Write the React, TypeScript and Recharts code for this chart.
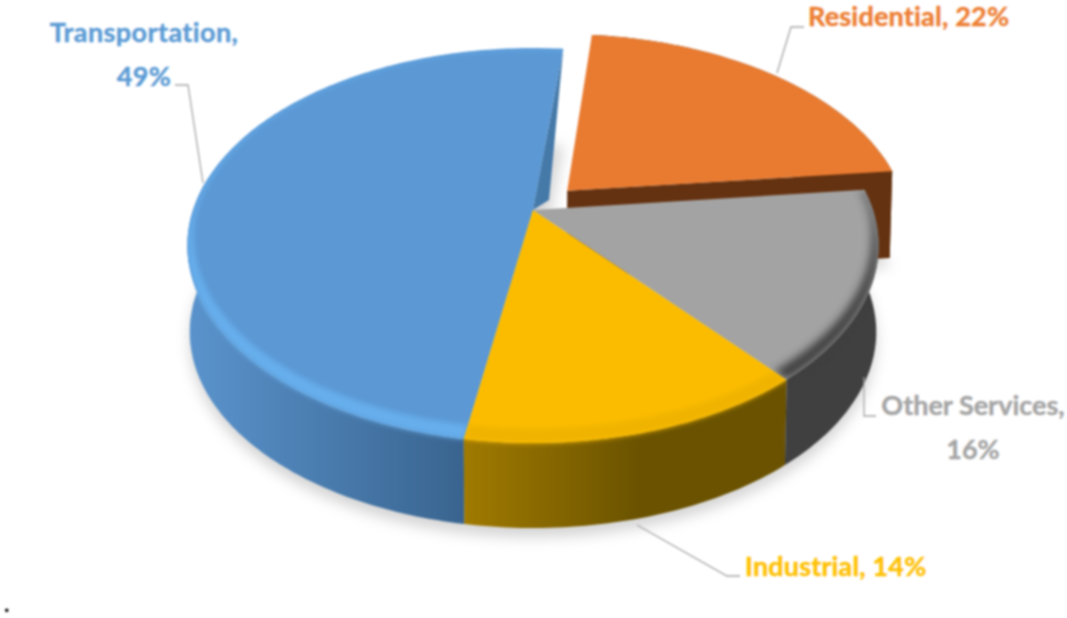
import React from 'react';
import { PieChart, Pie } from 'recharts';

const categories = ['Residential', 'Transportation', 'Industrial', 'Other Services'];
// unrounded shares, the printed labels round them (22, 49, 14, 16)
const shares = [21.6, 49, 13.8, 15.6];

const topColors = ['#E97B31', '#5B98D4', '#FBBC00', '#A3A3A3'];
const labelColors = ['#ED7D31', '#5B9BD5', '#FFC000', '#A5A5A5'];
const bevelColors = ['none', '#66AEEC', '#F0B400', '#3C3C3C'];
const wallStops = [
  ['#643211', '#643211'],
  ['#5A93CC', '#39648F'],
  ['#A07A00', '#6A5200'],
  ['#404040', '#404040'],
];

const chartData = categories.map((name, i) => ({ name, value: shares[i] }));

// projection of the tilted disc, fitted to the reference
const PERSPECTIVE = 0.18;
const TILT = 0.562;
const DEPTH = 86.6;
const FLOOR_SCALE = 0.993;
const EXPLODE = 0.145;
const EXPLODED = 'Residential';
const RAD = Math.PI / 180;

// leader lines and text anchors, one entry per category
const labelLayouts: Record<string, { line: number[][]; rows: number[][]; anchor: string; wrap: boolean; spacing: number }> = {
  Residential: { line: [[777, 73], [791, 27], [804, 27]], rows: [[808, 26]], anchor: 'start', wrap: false, spacing: 0.2 },
  Transportation: { line: [[175, 85], [188, 85], [203, 183]], rows: [[144, 42], [144, 86]], anchor: 'middle', wrap: true, spacing: 0.4 },
  Industrial: { line: [[637, 525], [727, 576], [740, 576]], rows: [[745, 576]], anchor: 'start', wrap: false, spacing: 0.15 },
  'Other Services': { line: [[864, 377], [864, 416], [876, 416]], rows: [[973, 415], [973, 459]], anchor: 'middle', wrap: true, spacing: 0 },
};

type Ctx = { cx: number; cy: number; r: number; du: number; dv: number };

function project(c: Ctx, u: number, v: number, floor: boolean) {
  const uu = u + c.du;
  const vv = v + c.dv;
  const d = 1 + PERSPECTIVE * vv;
  let x = c.cx + (c.r * uu) / d;
  let y = c.cy - (c.r * TILT * vv) / d;
  if (floor) {
    x = c.cx + (x - c.cx) * FLOOR_SCALE;
    y = c.cy + DEPTH + (y - c.cy) * FLOOR_SCALE;
  }
  return [x, y];
}

function rim(c: Ctx, start: number, end: number, radius: (a: number) => number, floor: boolean) {
  const steps = Math.max(8, Math.ceil(Math.abs(end - start)));
  const pts: number[][] = [];
  for (let i = 0; i <= steps; i++) {
    const a = start + ((end - start) * i) / steps;
    const rr = radius(a);
    pts.push(project(c, rr * Math.cos(a * RAD), rr * Math.sin(a * RAD), floor));
  }
  return pts;
}

const toPath = (pts: number[][]) =>
  'M' + pts.map((p) => p[0].toFixed(1) + ',' + p[1].toFixed(1)).join('L') + 'Z';

function makeCtx(props: any): Ctx {
  const mid = (props.startAngle + props.endAngle) / 2;
  const off = props.payload.name === EXPLODED ? EXPLODE : 0;
  return {
    cx: props.cx,
    cy: props.cy,
    r: props.outerRadius,
    du: off * Math.cos(mid * RAD),
    dv: off * Math.sin(mid * RAD),
  };
}

function ShadowSlice(props: any) {
  const c = makeCtx(props);
  const { startAngle, endAngle } = props;
  const floor = rim(c, startAngle, endAngle, () => 1, true);
  const apex = project(c, 0, 0, true);
  const id = 'shadow' + props.payload.name.slice(0, 3);
  return (
    <g>
      <filter id={id} filterUnits="userSpaceOnUse" x="0" y="0" width="1067" height="618">
        <feGaussianBlur stdDeviation="7" />
      </filter>
      <path d={toPath([apex, ...floor])} transform="translate(0,9)" fill="#000" fillOpacity={0.17} filter={'url(#' + id + ')'} />
    </g>
  );
}

function SliceShape(props: any) {
  const name = props.payload.name as string;
  const i = categories.indexOf(name);
  const key = name.slice(0, 3);
  const c = makeCtx(props);
  const { startAngle, endAngle } = props;

  const topRim = rim(c, startAngle, endAngle, () => 1, false);
  const floorRim = rim(c, startAngle, endAngle, () => 1, true);
  const apex = project(c, 0, 0, false);
  const apexFloor = project(c, 0, 0, true);
  const topPath = toPath([apex, ...topRim]);

  // only the exploded slice shows its far side, the others start at the near half
  const wallStart = name === EXPLODED ? startAngle : Math.max(startAngle, 170);
  const wallPath = toPath([
    ...rim(c, wallStart, endAngle, () => 1, false),
    ...rim(c, endAngle, wallStart, () => 1, true),
  ]);

  // soft band along the near edge of the top face
  const bandWidth = (a: number) => 1 - (0.012 + 0.04 * Math.max(0, -Math.sin(a * RAD)));
  const bandPath = toPath([...topRim, ...rim(c, endAngle, startAngle, bandWidth, false)]);

  const xs = floorRim.map((p) => p[0]);
  const [wallFrom, wallTo] = wallStops[i];

  return (
    <g>
      <defs>
        <linearGradient
          id={'wall' + key}
          gradientUnits="userSpaceOnUse"
          x1={name === 'Transportation' ? 190 : Math.min(...xs)}
          x2={name === 'Industrial' ? 640 : name === 'Transportation' ? 463 : Math.max(...xs)}
          y1="0"
          y2="0"
        >
          <stop offset="0" stopColor={wallFrom} />
          <stop offset="1" stopColor={wallTo} />
        </linearGradient>
        <clipPath id={'clip' + key}>
          <path d={topPath} />
          <path d={wallPath} />
        </clipPath>
        <filter id={'soft' + key} filterUnits="userSpaceOnUse" x="0" y="0" width="1067" height="618">
          <feGaussianBlur stdDeviation={name === 'Other Services' ? 4.5 : 2.4} />
        </filter>
      </defs>
      {name === EXPLODED && (
        <path d={toPath([apex, topRim[0], floorRim[0], apexFloor])} fill={wallTo} />
      )}
      {name === 'Transportation' && (
        <path d={toPath([apex, topRim[0], [apex[0] + 16, apex[1] - 10]])} fill="#4579A8" />
      )}
      <path d={wallPath} fill={'url(#wall' + key + ')'} />
      <path d={topPath} fill={topColors[i]} />
      {bevelColors[i] !== 'none' && (
        <g clipPath={'url(#clip' + key + ')'}>
          <path d={bandPath} fill={bevelColors[i]} filter={'url(#soft' + key + ')'} />
        </g>
      )}
    </g>
  );
}

function SliceLabel(props: any) {
  const name = props.name as string;
  const i = categories.indexOf(name);
  const layout = labelLayouts[name];
  const pct = Math.round(props.value) + '%';
  const texts = layout.wrap ? [name + ',', pct] : [name + ', ' + pct];
  return (
    <g>
      <polyline points={layout.line.map((p) => p.join(',')).join(' ')} fill="none" stroke="#A6A6A6" strokeWidth={1.3} />
      {texts.map((t, n) => (
        <text
          key={n}
          x={layout.rows[n][0]}
          y={layout.rows[n][1]}
          textAnchor={layout.anchor as any}
          fontFamily="Lato, sans-serif"
          fontWeight={700}
          fontSize={27}
          fill={labelColors[i]}
          stroke={labelColors[i]}
          strokeWidth={0.4}
          letterSpacing={layout.spacing}
          style={{ fontVariantLigatures: 'none' }}
        >
          {t}
        </text>
      ))}
    </g>
  );
}

export default function App() {
  const pieProps = {
    data: chartData,
    dataKey: 'value',
    nameKey: 'name',
    cx: 533,
    cy: 210,
    innerRadius: 0,
    outerRadius: 340,
    startAngle: 6.2,
    endAngle: 366.2,
    isAnimationActive: false,
  };
  return (
    <div style={{ position: 'absolute', left: 0, top: 0, width: 1067, height: 618, background: '#fff', filter: 'blur(0.8px)' }}>
      <PieChart width={1067} height={618} margin={{ top: 0, right: 0, bottom: 0, left: 0 }}>
        <Pie {...pieProps} shape={ShadowSlice} />
        <Pie {...pieProps} shape={SliceShape} labelLine={false} label={SliceLabel} />
      </PieChart>
      <div style={{ position: 'absolute', left: 3, top: 585, fontFamily: 'Liberation Serif, serif', fontSize: 30, color: '#000' }}>.</div>
    </div>
  );
}
